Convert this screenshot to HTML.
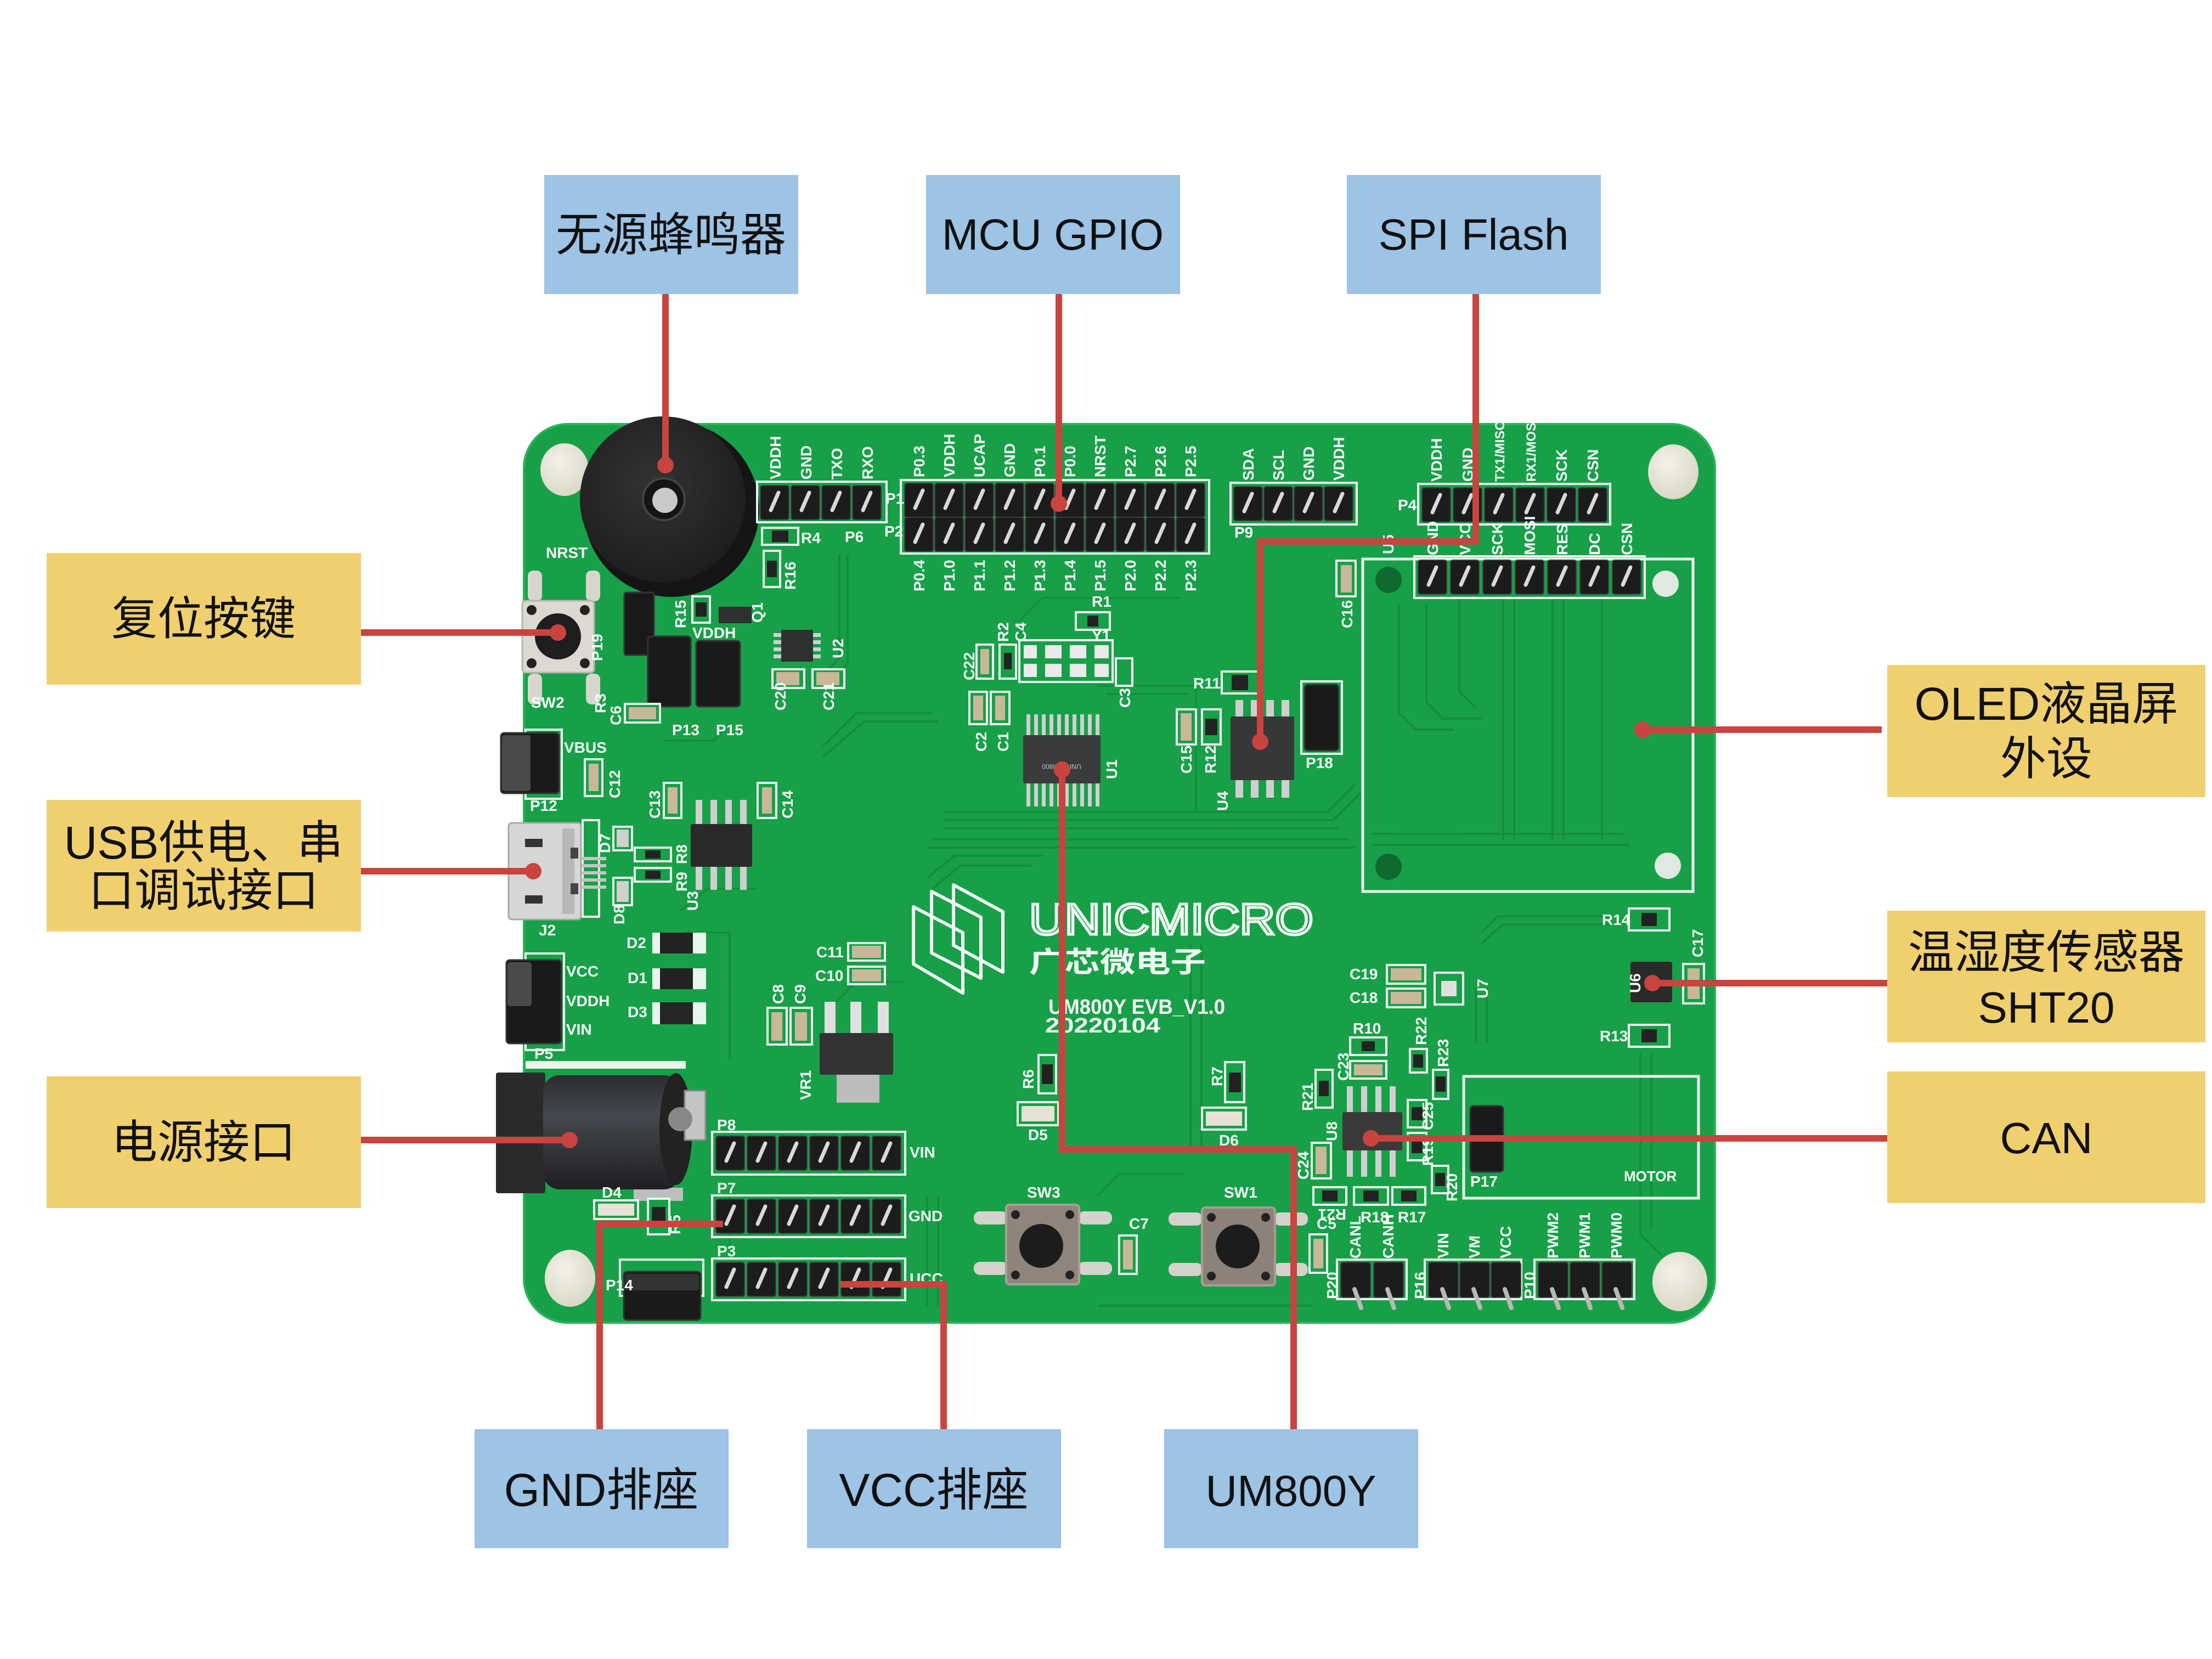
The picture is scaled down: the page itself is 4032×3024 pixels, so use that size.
<!DOCTYPE html>
<html><head><meta charset="utf-8">
<style>
html,body{margin:0;padding:0;background:#fff;}
svg{display:block;}
</style></head>
<body>
<svg width="4032" height="3024" viewBox="0 0 4032 3024" xmlns="http://www.w3.org/2000/svg">
<defs>
  <g id="pin"><rect x="1" y="1" width="52" height="62" rx="4" fill="#1c1c1c" stroke="#3d3d3d" stroke-width="2"/><line x1="20" y1="46" x2="34" y2="14" stroke="#d9d9d9" stroke-width="7" stroke-linecap="round"/></g>
  <g id="rpin"><rect x="1" y="1" width="54" height="64" rx="4" fill="#1c1c1c" stroke="#3d3d3d" stroke-width="2"/><line x1="26" y1="50" x2="38" y2="84" stroke="#b8b8b8" stroke-width="8" stroke-linecap="round"/></g>
  <linearGradient id="jack" x1="0" y1="0" x2="0" y2="1"><stop offset="0" stop-color="#2a2c30"/><stop offset="0.35" stop-color="#45484e"/><stop offset="1" stop-color="#1e1f22"/></linearGradient>
  <radialGradient id="bz" cx="0.45" cy="0.4" r="0.6"><stop offset="0" stop-color="#333"/><stop offset="1" stop-color="#1e1e1e"/></radialGradient>
  <radialGradient id="so" cx="0.4" cy="0.35" r="0.7"><stop offset="0" stop-color="#f4f2e8"/><stop offset="1" stop-color="#d8d6c4"/></radialGradient>
</defs>

<rect width="4032" height="3024" fill="#fff"/>

<!-- ===== BOARD ===== -->
<rect x="955" y="773" width="2171" height="1638" rx="80" fill="#18a048" stroke="#2cb35a" stroke-width="4"/>

<!-- traces texture -->
<g fill="none" stroke="#12893a" stroke-width="4" opacity="0.75">
  <path d="M1530 1010 V1200 L1500 1230"/><path d="M1545 1010 V1210 L1515 1240"/>
  <path d="M1720 1480 H2420 L2470 1430"/><path d="M1720 1495 H2430 L2480 1445"/><path d="M1720 1510 H2440"/>
  <path d="M1700 1530 H2460"/><path d="M1690 1545 H2470"/>
  <path d="M2000 1250 H2180 V1480"/><path d="M2015 1265 H2165"/>
  <path d="M1500 1360 L1560 1300 H1700"/><path d="M1500 1380 L1575 1315 H1710"/>
  <path d="M1520 1900 V1830 L1560 1790 H1650"/>
  <path d="M1690 1600 L1740 1560 H1900"/><path d="M1700 1620 L1750 1578 H1880"/>
  <path d="M2550 1100 V1300 L2580 1330 H2650"/><path d="M2600 1100 V1280 L2630 1310 H2700"/>
  <path d="M2660 1090 V1260 L2690 1290"/><path d="M2740 1090 V1530"/><path d="M2760 1090 V1530"/>
  <path d="M2830 1090 V1530"/><path d="M2850 1090 V1530"/><path d="M2920 1090 V1530"/>
  <path d="M2500 1520 H2960"/><path d="M2500 1540 H2970"/>
  <path d="M2700 1700 L2730 1670 H2940"/><path d="M2700 1720 L2740 1685 H2940"/>
  <path d="M2690 1800 V1900"/><path d="M2710 1800 V1900"/>
  <path d="M2190 1720 V2100"/><path d="M2170 1720 V2100"/>
  <path d="M1240 1660 L1290 1620 H1380"/><path d="M1250 1700 H1330 V1930"/>
  <path d="M1330 2170 V2270"/><path d="M1690 2180 V2380"/><path d="M1710 2180 V2380"/>
  <path d="M2000 2180 L2040 2140 H2160"/><path d="M2000 2380 H2390"/>
  <path d="M2990 1920 V2250 L3030 2290"/><path d="M3010 1920 V2240"/>
  <path d="M1860 1130 L1900 1090 H2150"/><path d="M1210 1350 H1300 L1330 1320"/>
</g>

<!-- standoffs -->
<ellipse cx="1029" cy="856" rx="44" ry="48" fill="url(#so)"/>
<ellipse cx="3050" cy="860" rx="46" ry="50" fill="url(#so)"/>
<ellipse cx="1039" cy="2330" rx="46" ry="52" fill="url(#so)"/>
<ellipse cx="3062" cy="2336" rx="50" ry="54" fill="url(#so)"/>

<!-- OLED outline -->
<rect x="2484" y="1019" width="602" height="606" fill="none" stroke="#e9f5ec" stroke-width="5"/>
<circle cx="2531" cy="1057" r="24" fill="#0f6a30"/><circle cx="3036" cy="1064" r="24" fill="#dfe9e2"/>
<circle cx="2531" cy="1580" r="24" fill="#0f6a30"/><circle cx="3040" cy="1578" r="24" fill="#dfe9e2"/>
<!-- MOTOR outline -->
<rect x="2668" y="1962" width="428" height="222" fill="none" stroke="#e9f5ec" stroke-width="5"/>

<!-- buzzer -->
<circle cx="1224" cy="928" r="160" fill="#151515"/>
<circle cx="1208" cy="910" r="151" fill="url(#bz)"/>
<circle cx="1210" cy="910" r="38" fill="#151515" stroke="#444" stroke-width="4"/>
<circle cx="1212" cy="912" r="23" fill="#c9c9c9"/>

<!-- header outlines -->
<g fill="none" stroke="#e9f5ec" stroke-width="4">
  <rect x="1380" y="878" width="236" height="74"/>
  <rect x="1642" y="875" width="562" height="134"/>
  <rect x="2243" y="880" width="230" height="76"/>
  <rect x="2585" y="882" width="350" height="74"/>
  <rect x="2578" y="1014" width="420" height="76"/>
  <rect x="1298" y="2063" width="352" height="78"/>
  <rect x="1298" y="2179" width="352" height="76"/>
  <rect x="1298" y="2294" width="352" height="76"/>
  <rect x="2437" y="2296" width="127" height="72"/>
  <rect x="2597" y="2296" width="176" height="72"/>
  <rect x="2797" y="2296" width="182" height="72"/>
</g>

<!-- headers -->
<g>
  <use href="#pin" x="1385" y="884"/><use href="#pin" x="1441" y="884"/><use href="#pin" x="1497" y="884"/><use href="#pin" x="1553" y="884"/>
  <use href="#pin" x="1648" y="880"/><use href="#pin" x="1703" y="880"/><use href="#pin" x="1758" y="880"/><use href="#pin" x="1813" y="880"/><use href="#pin" x="1868" y="880"/><use href="#pin" x="1923" y="880"/><use href="#pin" x="1978" y="880"/><use href="#pin" x="2033" y="880"/><use href="#pin" x="2088" y="880"/><use href="#pin" x="2143" y="880"/>
  <use href="#pin" x="1648" y="942"/><use href="#pin" x="1703" y="942"/><use href="#pin" x="1758" y="942"/><use href="#pin" x="1813" y="942"/><use href="#pin" x="1868" y="942"/><use href="#pin" x="1923" y="942"/><use href="#pin" x="1978" y="942"/><use href="#pin" x="2033" y="942"/><use href="#pin" x="2088" y="942"/><use href="#pin" x="2143" y="942"/>
  <use href="#pin" x="2248" y="886"/><use href="#pin" x="2303" y="886"/><use href="#pin" x="2358" y="886"/><use href="#pin" x="2413" y="886"/>
  <use href="#pin" x="2591" y="888"/><use href="#pin" x="2648" y="888"/><use href="#pin" x="2705" y="888"/><use href="#pin" x="2762" y="888"/><use href="#pin" x="2819" y="888"/><use href="#pin" x="2876" y="888"/>
  <use href="#pin" x="2584" y="1020"/><use href="#pin" x="2643" y="1020"/><use href="#pin" x="2702" y="1020"/><use href="#pin" x="2761" y="1020"/><use href="#pin" x="2820" y="1020"/><use href="#pin" x="2879" y="1020"/><use href="#pin" x="2938" y="1020"/>
  <use href="#pin" x="1304" y="2070"/><use href="#pin" x="1361" y="2070"/><use href="#pin" x="1418" y="2070"/><use href="#pin" x="1475" y="2070"/><use href="#pin" x="1532" y="2070"/><use href="#pin" x="1589" y="2070"/>
  <use href="#pin" x="1304" y="2185"/><use href="#pin" x="1361" y="2185"/><use href="#pin" x="1418" y="2185"/><use href="#pin" x="1475" y="2185"/><use href="#pin" x="1532" y="2185"/><use href="#pin" x="1589" y="2185"/>
  <use href="#pin" x="1304" y="2300"/><use href="#pin" x="1361" y="2300"/><use href="#pin" x="1418" y="2300"/><use href="#pin" x="1475" y="2300"/><use href="#pin" x="1532" y="2300"/><use href="#pin" x="1589" y="2300"/>
  <use href="#rpin" x="2443" y="2300"/><use href="#rpin" x="2503" y="2300"/>
  <use href="#rpin" x="2603" y="2300"/><use href="#rpin" x="2660" y="2300"/><use href="#rpin" x="2717" y="2300"/>
  <use href="#rpin" x="2803" y="2300"/><use href="#rpin" x="2861" y="2300"/><use href="#rpin" x="2919" y="2300"/>
</g>

<!-- jumper outlines -->
<g fill="none" stroke="#e9f5ec" stroke-width="4">
  <rect x="1130" y="2296" width="152" height="66"/>
  <rect x="958" y="1330" width="66" height="126"/>
  <rect x="958" y="1738" width="70" height="176"/>
  <rect x="2372" y="1242" width="74" height="132"/>
</g>
<!-- jumpers (black blocks) -->
<g fill="#1a1a1a" stroke="#333" stroke-width="3">
  <rect x="1138" y="1080" width="54" height="114" rx="4"/>
  <rect x="1181" y="1160" width="78" height="128" rx="6"/>
  <rect x="1269" y="1168" width="80" height="120" rx="6"/>
  <rect x="913" y="1336" width="106" height="110" rx="6"/>
  <rect x="923" y="1750" width="100" height="152" rx="6"/>
  <rect x="1137" y="2318" width="140" height="88" rx="6"/>
  <rect x="2378" y="1248" width="62" height="120" rx="6"/>
  <rect x="2680" y="2016" width="60" height="120" rx="6"/>
</g>
<g fill="#4a4a4a">
  <rect x="915" y="1340" width="52" height="102" rx="5"/>
  <rect x="925" y="1754" width="44" height="80" rx="5"/>
  <rect x="1140" y="2322" width="134" height="30" rx="4" fill="#333"/>
</g>

<!-- reset button SW2 -->
<g>
  <rect x="962" y="1040" width="26" height="56" rx="10" fill="#d6d6cf"/><rect x="1068" y="1040" width="26" height="56" rx="10" fill="#d6d6cf"/>
  <rect x="962" y="1228" width="26" height="56" rx="10" fill="#d6d6cf"/><rect x="1068" y="1228" width="26" height="56" rx="10" fill="#d6d6cf"/>
  <rect x="952" y="1095" width="131" height="131" rx="6" fill="#dcd9d2" stroke="#b8b4ac" stroke-width="3"/>
  <circle cx="969" cy="1112" r="9" fill="#222"/><circle cx="1066" cy="1112" r="9" fill="#222"/>
  <circle cx="969" cy="1209" r="9" fill="#222"/><circle cx="1066" cy="1209" r="9" fill="#222"/>
  <circle cx="1017" cy="1160" r="42" fill="#1e1e1e"/>
</g>

<!-- SW3 / SW1 -->
<g>
  <rect x="1775" y="2208" width="62" height="24" rx="11" fill="#d3d3cb"/><rect x="1965" y="2208" width="62" height="24" rx="11" fill="#d3d3cb"/>
  <rect x="1775" y="2300" width="62" height="24" rx="11" fill="#d3d3cb"/><rect x="1965" y="2300" width="62" height="24" rx="11" fill="#d3d3cb"/>
  <rect x="1834" y="2196" width="133" height="145" rx="6" fill="#8f857d" stroke="#a9a097" stroke-width="4"/>
  <circle cx="1851" cy="2214" r="8" fill="#222"/><circle cx="1950" cy="2214" r="8" fill="#222"/><circle cx="1851" cy="2324" r="8" fill="#222"/><circle cx="1950" cy="2324" r="8" fill="#222"/>
  <circle cx="1898" cy="2271" r="40" fill="#1c1c1c"/>
  <rect x="2130" y="2210" width="62" height="24" rx="11" fill="#d3d3cb"/><rect x="2322" y="2210" width="62" height="24" rx="11" fill="#d3d3cb"/>
  <rect x="2130" y="2302" width="62" height="24" rx="11" fill="#d3d3cb"/><rect x="2322" y="2302" width="62" height="24" rx="11" fill="#d3d3cb"/>
  <rect x="2191" y="2201" width="133" height="142" rx="6" fill="#8c827a" stroke="#a79e95" stroke-width="4"/>
  <circle cx="2208" cy="2219" r="8" fill="#222"/><circle cx="2307" cy="2219" r="8" fill="#222"/><circle cx="2208" cy="2326" r="8" fill="#222"/><circle cx="2307" cy="2326" r="8" fill="#222"/>
  <circle cx="2256" cy="2272" r="40" fill="#1c1c1c"/>
</g>

<!-- USB J2 -->
<g>
  <rect x="1062" y="1495" width="30" height="176" fill="none" stroke="#e9f5ec" stroke-width="4"/>
  <line x1="1055" y1="1565" x2="1105" y2="1565" stroke="#c4c4c4" stroke-width="6"/>
  <line x1="1055" y1="1578" x2="1105" y2="1578" stroke="#c4c4c4" stroke-width="6"/>
  <line x1="1055" y1="1591" x2="1105" y2="1591" stroke="#c4c4c4" stroke-width="6"/>
  <line x1="1055" y1="1604" x2="1105" y2="1604" stroke="#c4c4c4" stroke-width="6"/>
  <line x1="1055" y1="1617" x2="1105" y2="1617" stroke="#c4c4c4" stroke-width="6"/>
  <rect x="927" y="1500" width="132" height="176" rx="6" fill="#d6d6d4" stroke="#a8a8a8" stroke-width="3"/>
  <rect x="957" y="1529" width="32" height="15" fill="#333"/>
  <rect x="957" y="1632" width="32" height="15" fill="#333"/>
  <rect x="1025" y="1510" width="22" height="156" fill="#b8b8b6"/>
  <rect x="1040" y="1545" width="14" height="20" fill="#444"/><rect x="1040" y="1610" width="14" height="20" fill="#444"/>
</g>

<!-- DC jack -->
<g>
  <rect x="958" y="1934" width="292" height="14" fill="#e9f5ec"/>
  <rect x="1155" y="2165" width="90" height="24" fill="#bdbdbd"/>
  <rect x="904" y="1955" width="90" height="220" rx="4" fill="#2a2a2a"/>
  <rect x="990" y="1960" width="250" height="208" rx="30" fill="url(#jack)"/>
  <ellipse cx="1232" cy="2058" rx="30" ry="102" fill="#222"/>
  <rect x="1248" y="1988" width="38" height="90" fill="#c4c4c4" stroke="#888" stroke-width="3"/>
  <circle cx="1240" cy="2040" r="22" fill="#888"/>
</g>

<!-- diodes D2 D1 D3 -->
<g>
  <rect x="1189" y="1700" width="98" height="38" fill="#e9f5ec"/><rect x="1203" y="1700" width="60" height="38" fill="#222"/>
  <rect x="1189" y="1765" width="98" height="38" fill="#e9f5ec"/><rect x="1203" y="1765" width="60" height="38" fill="#222"/>
  <rect x="1189" y="1827" width="98" height="40" fill="#e9f5ec"/><rect x="1203" y="1827" width="60" height="40" fill="#262626"/>
</g>

<!-- AMS1117 VR1 -->
<g>
  <rect x="1503" y="1826" width="20" height="60" fill="#e0e0e0"/><rect x="1550" y="1826" width="20" height="60" fill="#e0e0e0"/><rect x="1600" y="1826" width="20" height="60" fill="#e0e0e0"/>
  <rect x="1525" y="1958" width="78" height="52" fill="#bcbcbc"/>
  <rect x="1494" y="1883" width="134" height="76" rx="3" fill="#333"/>
</g>

<!-- chips -->
<g fill="#cfcfcf">
  <rect x="1871" y="1302" width="7" height="40"/><rect x="1885" y="1302" width="7" height="40"/><rect x="1899" y="1302" width="7" height="40"/><rect x="1913" y="1302" width="7" height="40"/><rect x="1927" y="1302" width="7" height="40"/><rect x="1941" y="1302" width="7" height="40"/><rect x="1955" y="1302" width="7" height="40"/><rect x="1969" y="1302" width="7" height="40"/><rect x="1983" y="1302" width="7" height="40"/><rect x="1997" y="1302" width="7" height="40"/>
  <rect x="1871" y="1426" width="7" height="44"/><rect x="1885" y="1426" width="7" height="44"/><rect x="1899" y="1426" width="7" height="44"/><rect x="1913" y="1426" width="7" height="44"/><rect x="1927" y="1426" width="7" height="44"/><rect x="1941" y="1426" width="7" height="44"/><rect x="1955" y="1426" width="7" height="44"/><rect x="1969" y="1426" width="7" height="44"/><rect x="1983" y="1426" width="7" height="44"/><rect x="1997" y="1426" width="7" height="44"/>
  <rect x="2252" y="1276" width="14" height="32"/><rect x="2280" y="1276" width="14" height="32"/><rect x="2308" y="1276" width="14" height="32"/><rect x="2336" y="1276" width="14" height="32"/>
  <rect x="2252" y="1420" width="14" height="34"/><rect x="2280" y="1420" width="14" height="34"/><rect x="2308" y="1420" width="14" height="34"/><rect x="2336" y="1420" width="14" height="34"/>
  <rect x="2455" y="1980" width="11" height="50"/><rect x="2481" y="1980" width="11" height="50"/><rect x="2507" y="1980" width="11" height="50"/><rect x="2533" y="1980" width="11" height="50"/>
  <rect x="2455" y="2095" width="11" height="50"/><rect x="2481" y="2095" width="11" height="50"/><rect x="2507" y="2095" width="11" height="50"/><rect x="2533" y="2095" width="11" height="50"/>
  <rect x="1268" y="1458" width="12" height="46"/><rect x="1295" y="1458" width="12" height="46"/><rect x="1322" y="1458" width="12" height="46"/><rect x="1349" y="1458" width="12" height="46"/>
  <rect x="1268" y="1578" width="12" height="44"/><rect x="1295" y="1578" width="12" height="44"/><rect x="1322" y="1578" width="12" height="44"/><rect x="1349" y="1578" width="12" height="44"/>
  <rect x="1410" y="1154" width="16" height="7"/><rect x="1410" y="1167" width="16" height="7"/><rect x="1410" y="1180" width="16" height="7"/><rect x="1410" y="1193" width="16" height="7"/>
  <rect x="1480" y="1154" width="16" height="7"/><rect x="1480" y="1167" width="16" height="7"/><rect x="1480" y="1180" width="16" height="7"/><rect x="1480" y="1193" width="16" height="7"/>
</g>
<g fill="#2f3030">
  <rect x="1865" y="1340" width="141" height="88" rx="3" fill="#3a3b3b"/>
  <rect x="2243" y="1306" width="116" height="116" rx="3" fill="#363737"/>
  <rect x="2447" y="2027" width="109" height="70" rx="3" fill="#3a3a3a"/>
  <rect x="1259" y="1502" width="112" height="78" rx="3" fill="#2a2a2a"/>
  <rect x="1424" y="1148" width="58" height="58" rx="2"/>
  <rect x="2972" y="1753" width="76" height="74" rx="4" fill="#2a2a2a"/>
  <rect x="1310" y="1106" width="60" height="30"/>
</g>
<g fill="#bfc9c2" font-family="Liberation Sans, sans-serif" font-size="12">
  <text x="1935" y="1375" text-anchor="middle" transform="rotate(180 1935 1384)">UNIC UM800</text>
</g>
<!-- U7 -->
<rect x="2615" y="1773" width="52" height="58" fill="none" stroke="#e9f5ec" stroke-width="4"/>
<rect x="2627" y="1788" width="28" height="28" fill="#e0e0e0"/>

<!-- crystal Y1 pads -->
<g fill="#eaeaea">
  <rect x="1858" y="1167" width="170" height="76" fill="none" stroke="#e9f5ec" stroke-width="4"/>
  <rect x="1866" y="1176" width="24" height="24"/><rect x="1866" y="1210" width="24" height="24"/>
  <rect x="1905" y="1176" width="30" height="24"/><rect x="1950" y="1176" width="30" height="24"/><rect x="1905" y="1210" width="30" height="24"/><rect x="1950" y="1210" width="30" height="24"/>
  <rect x="1995" y="1176" width="26" height="24"/><rect x="1995" y="1210" width="26" height="24"/>
</g>

<!-- small SMD parts -->
<g stroke="#e9f5ec" stroke-width="4" fill="#18a048">
  <rect x="1389" y="962" width="66" height="31"/><rect x="1961" y="1116" width="62" height="32"/>
  <rect x="1139" y="1283" width="64" height="34"/><rect x="1408" y="1220" width="58" height="34"/><rect x="1481" y="1220" width="58" height="34"/>
  <rect x="1157" y="1545" width="66" height="25"/><rect x="1157" y="1582" width="66" height="25"/>
  <rect x="2227" y="1224" width="66" height="40"/><rect x="2969" y="1656" width="74" height="40"/><rect x="2969" y="1868" width="74" height="40"/>
  <rect x="2528" y="1759" width="70" height="34"/><rect x="2528" y="1802" width="70" height="34"/>
  <rect x="2461" y="1891" width="66" height="32"/><rect x="2461" y="1934" width="66" height="32"/>
  <rect x="2394" y="2164" width="60" height="32"/><rect x="2468" y="2164" width="62" height="32"/><rect x="2538" y="2164" width="60" height="32"/>
  <rect x="1546" y="1719" width="67" height="32"/><rect x="1546" y="1762" width="67" height="32"/>
  <rect x="1083" y="2188" width="80" height="34"/><rect x="1855" y="2009" width="74" height="42"/><rect x="2191" y="2019" width="80" height="40"/>
  <rect x="1392" y="1004" width="30" height="66"/><rect x="1262" y="1087" width="32" height="48"/>
  <rect x="1066" y="1384" width="32" height="67"/><rect x="1210" y="1427" width="32" height="64"/><rect x="1381" y="1427" width="34" height="64"/>
  <rect x="1118" y="1507" width="34" height="43"/><rect x="1118" y="1600" width="34" height="50"/>
  <rect x="1780" y="1175" width="30" height="62"/><rect x="1822" y="1175" width="30" height="62"/>
  <rect x="1767" y="1261" width="32" height="59"/><rect x="1806" y="1261" width="34" height="59"/><rect x="2034" y="1200" width="30" height="50"/>
  <rect x="2145" y="1293" width="35" height="64"/><rect x="2191" y="1293" width="34" height="64"/><rect x="2436" y="1022" width="35" height="65"/>
  <rect x="3068" y="1757" width="38" height="72"/>
  <rect x="2570" y="1912" width="31" height="43"/><rect x="2612" y="1950" width="28" height="53"/><rect x="2398" y="1950" width="31" height="69"/>
  <rect x="2566" y="2005" width="34" height="50"/><rect x="2566" y="2065" width="34" height="50"/><rect x="2610" y="2125" width="30" height="50"/>
  <rect x="2391" y="2083" width="35" height="65"/><rect x="2387" y="2250" width="32" height="70"/><rect x="2040" y="2252" width="32" height="70"/>
  <rect x="1399" y="1837" width="35" height="67"/><rect x="1441" y="1837" width="39" height="67"/>
  <rect x="1893" y="1923" width="32" height="70"/><rect x="2233" y="1936" width="35" height="73"/><rect x="1181" y="2185" width="39" height="65"/>
</g>
<g fill="#c9b799">
  <rect x="1415" y="1225" width="42" height="24"/><rect x="1488" y="1225" width="42" height="24"/><rect x="1146" y="1289" width="50" height="22"/>
  <rect x="1073" y="1392" width="18" height="50"/><rect x="1217" y="1435" width="18" height="48"/><rect x="1389" y="1435" width="18" height="48"/>
  <rect x="1787" y="1183" width="16" height="46"/><rect x="1774" y="1268" width="18" height="45"/><rect x="1814" y="1268" width="18" height="45"/>
  <rect x="2152" y="1300" width="20" height="50"/><rect x="2444" y="1030" width="20" height="50"/><rect x="3076" y="1765" width="22" height="56"/>
  <rect x="2535" y="1765" width="56" height="22"/><rect x="2535" y="1808" width="56" height="22"/><rect x="2468" y="1940" width="52" height="20"/>
  <rect x="1553" y="1724" width="53" height="22"/><rect x="1553" y="1767" width="53" height="22"/>
  <rect x="1406" y="1845" width="20" height="52"/><rect x="1449" y="1845" width="22" height="52"/>
  <rect x="2398" y="2090" width="20" height="50"/><rect x="2394" y="2258" width="18" height="54"/><rect x="2047" y="2260" width="18" height="54"/>
  <rect x="1090" y="2194" width="66" height="22" fill="#e6e2d6"/><rect x="1862" y="2016" width="60" height="28" fill="#e6e2d6"/><rect x="2198" y="2026" width="66" height="26" fill="#e6e2d6"/>
  <rect x="1124" y="1512" width="22" height="32" fill="#d0d0cc"/><rect x="1124" y="1606" width="22" height="38" fill="#d0d0cc"/>
</g>
<g fill="#222">
  <rect x="1407" y="967" width="30" height="21"/><rect x="1398" y="1022" width="18" height="30"/><rect x="1268" y="1098" width="20" height="26"/>
  <rect x="1830" y="1190" width="14" height="30"/><rect x="1982" y="1122" width="20" height="20"/>
  <rect x="2245" y="1230" width="30" height="28"/><rect x="2197" y="1310" width="22" height="30"/>
  <rect x="2992" y="1664" width="28" height="24"/><rect x="2992" y="1876" width="28" height="24"/>
  <rect x="2482" y="1898" width="24" height="18"/><rect x="2576" y="1922" width="18" height="24"/><rect x="2617" y="1962" width="18" height="28"/>
  <rect x="2404" y="1970" width="18" height="28"/><rect x="2573" y="2018" width="20" height="24"/><rect x="2573" y="2078" width="20" height="24"/><rect x="2616" y="2138" width="18" height="24"/>
  <rect x="2410" y="2170" width="28" height="20"/><rect x="2485" y="2170" width="28" height="20"/><rect x="2554" y="2170" width="28" height="20"/>
  <rect x="1176" y="1550" width="28" height="15"/><rect x="1176" y="1587" width="28" height="15"/>
  <rect x="1899" y="1940" width="20" height="36"/><rect x="2240" y="1955" width="22" height="36"/><rect x="1188" y="2200" width="25" height="36"/>
</g>

<!-- logo -->
<g fill="none" stroke="#f2faf4" stroke-width="6" stroke-linejoin="round">
  <path d="M1665 1653 L1755 1700 L1755 1810 L1665 1757 Z"/>
  <path d="M1698 1625 L1788 1672 L1788 1783 L1698 1737 Z"/>
  <path d="M1738 1613 L1828 1662 L1828 1772 L1738 1723 Z"/>
</g>
<g font-family="Liberation Sans, sans-serif">
  <text x="1876" y="1703" font-size="80" fill="none" stroke="#f2faf4" stroke-width="5" textLength="518" lengthAdjust="spacingAndGlyphs">UNICMICRO</text>
  <text x="1876" y="1772" font-family="Liberation Sans, Noto Sans CJK SC, sans-serif" font-size="52" font-weight="bold" fill="#f2faf4" textLength="322" lengthAdjust="spacingAndGlyphs">广芯微电子</text>
  <text x="1911" y="1848" font-size="38" font-weight="bold" fill="#f2faf4" textLength="322" lengthAdjust="spacingAndGlyphs">UM800Y EVB_V1.0</text>
  <text x="1905" y="1882" font-size="38" font-weight="bold" fill="#f2faf4" textLength="210" lengthAdjust="spacingAndGlyphs">20220104</text>
</g>

<!-- silkscreen labels -->
<g font-family="Liberation Sans, sans-serif" font-size="28" font-weight="bold" fill="#f2faf4">
  <text transform="translate(1423 874) rotate(-90)">VDDH</text>
  <text transform="translate(1479 874) rotate(-90)">GND</text>
  <text transform="translate(1535 874) rotate(-90)">TXO</text>
  <text transform="translate(1591 874) rotate(-90)">RXO</text>
  <text transform="translate(1685 870) rotate(-90)">P0.3</text>
  <text transform="translate(1740 870) rotate(-90)">VDDH</text>
  <text transform="translate(1795 870) rotate(-90)">UCAP</text>
  <text transform="translate(1850 870) rotate(-90)">GND</text>
  <text transform="translate(1905 870) rotate(-90)">P0.1</text>
  <text transform="translate(1960 870) rotate(-90)">P0.0</text>
  <text transform="translate(2015 870) rotate(-90)">NRST</text>
  <text transform="translate(2070 870) rotate(-90)">P2.7</text>
  <text transform="translate(2125 870) rotate(-90)">P2.6</text>
  <text transform="translate(2180 870) rotate(-90)">P2.5</text>
  <text transform="translate(1685 1078) rotate(-90)">P0.4</text>
  <text transform="translate(1740 1078) rotate(-90)">P1.0</text>
  <text transform="translate(1795 1078) rotate(-90)">P1.1</text>
  <text transform="translate(1850 1078) rotate(-90)">P1.2</text>
  <text transform="translate(1905 1078) rotate(-90)">P1.3</text>
  <text transform="translate(1960 1078) rotate(-90)">P1.4</text>
  <text transform="translate(2015 1078) rotate(-90)">P1.5</text>
  <text transform="translate(2070 1078) rotate(-90)">P2.0</text>
  <text transform="translate(2125 1078) rotate(-90)">P2.2</text>
  <text transform="translate(2180 1078) rotate(-90)">P2.3</text>
  <text transform="translate(2285 876) rotate(-90)">SDA</text>
  <text transform="translate(2340 876) rotate(-90)">SCL</text>
  <text transform="translate(2395 876) rotate(-90)">GND</text>
  <text transform="translate(2450 876) rotate(-90)">VDDH</text>
  <text transform="translate(2628 878) rotate(-90)">VDDH</text>
  <text transform="translate(2685 878) rotate(-90)">GND</text>
  <text transform="translate(2742 878) rotate(-90)" font-size="24">TX1/MISO</text>
  <text transform="translate(2799 878) rotate(-90)" font-size="24">RX1/MOSI</text>
  <text transform="translate(2856 878) rotate(-90)">SCK</text>
  <text transform="translate(2913 878) rotate(-90)">CSN</text>
  <text transform="translate(2621 1012) rotate(-90)">GND</text>
  <text transform="translate(2680 1012) rotate(-90)">VCC</text>
  <text transform="translate(2739 1012) rotate(-90)">SCK</text>
  <text transform="translate(2798 1012) rotate(-90)">MOSI</text>
  <text transform="translate(2857 1012) rotate(-90)">RES</text>
  <text transform="translate(2916 1012) rotate(-90)">DC</text>
  <text transform="translate(2975 1012) rotate(-90)">CSN</text>
  <text transform="translate(2480 2294) rotate(-90)">CANL</text>
  <text transform="translate(2540 2294) rotate(-90)">CANH</text>
  <text transform="translate(2640 2294) rotate(-90)">VIN</text>
  <text transform="translate(2697 2294) rotate(-90)">VM</text>
  <text transform="translate(2754 2294) rotate(-90)">VCC</text>
  <text transform="translate(2840 2294) rotate(-90)">PWM2</text>
  <text transform="translate(2898 2294) rotate(-90)">PWM1</text>
  <text transform="translate(2956 2294) rotate(-90)">PWM0</text>
  <text transform="translate(2438 2368) rotate(-90)">P20</text>
  <text transform="translate(2598 2368) rotate(-90)">P16</text>
  <text transform="translate(2798 2368) rotate(-90)">P10</text>
  <text transform="translate(1450 1075) rotate(-90)">R16</text>
  <text transform="translate(1250 1145) rotate(-90)">R15</text>
  <text transform="translate(1098 1205) rotate(-90)">P19</text>
  <text transform="translate(1104 1300) rotate(-90)">R3</text>
  <text transform="translate(1132 1322) rotate(-90)">C6</text>
  <text transform="translate(1390 1135) rotate(-90)">Q1</text>
  <text transform="translate(1537 1200) rotate(-90)">U2</text>
  <text transform="translate(1432 1295) rotate(-90)">C20</text>
  <text transform="translate(1520 1295) rotate(-90)">C21</text>
  <text transform="translate(1130 1455) rotate(-90)">C12</text>
  <text transform="translate(1203 1492) rotate(-90)">C13</text>
  <text transform="translate(1445 1492) rotate(-90)">C14</text>
  <text transform="translate(1112 1555) rotate(-90)">D7</text>
  <text transform="translate(1252 1575) rotate(-90)">R8</text>
  <text transform="translate(1252 1625) rotate(-90)">R9</text>
  <text transform="translate(1138 1685) rotate(-90)">D8</text>
  <text transform="translate(1272 1660) rotate(-90)">U3</text>
  <text transform="translate(1776 1240) rotate(-90)">C22</text>
  <text transform="translate(1838 1170) rotate(-90)">R2</text>
  <text transform="translate(1870 1170) rotate(-90)">C4</text>
  <text transform="translate(2060 1290) rotate(-90)">C3</text>
  <text transform="translate(1798 1370) rotate(-90)">C2</text>
  <text transform="translate(1838 1370) rotate(-90)">C1</text>
  <text transform="translate(2036 1420) rotate(-90)">U1</text>
  <text transform="translate(2172 1410) rotate(-90)">C15</text>
  <text transform="translate(2216 1410) rotate(-90)">R12</text>
  <text transform="translate(2238 1478) rotate(-90)">U4</text>
  <text transform="translate(2465 1145) rotate(-90)">C16</text>
  <text transform="translate(2540 1010) rotate(-90)">U5</text>
  <text transform="translate(3104 1745) rotate(-90)">C17</text>
  <text transform="translate(2990 1810) rotate(-90)">U6</text>
  <text transform="translate(2712 1820) rotate(-90)">U7</text>
  <text transform="translate(2600 1905) rotate(-90)">R22</text>
  <text transform="translate(2640 1945) rotate(-90)">R23</text>
  <text transform="translate(2458 1970) rotate(-90)">C23</text>
  <text transform="translate(2393 2025) rotate(-90)">R21</text>
  <text transform="translate(2437 2080) rotate(-90)">U8</text>
  <text transform="translate(2612 2060) rotate(-90)">C25</text>
  <text transform="translate(2612 2125) rotate(-90)">R19</text>
  <text transform="translate(2656 2190) rotate(-90)">R20</text>
  <text transform="translate(2385 2150) rotate(-90)">C24</text>
  <text transform="translate(2228 1980) rotate(-90)">R7</text>
  <text transform="translate(1884 1985) rotate(-90)">R6</text>
  <text transform="translate(1478 2005) rotate(-90)">VR1</text>
  <text transform="translate(1428 1830) rotate(-90)">C8</text>
  <text transform="translate(1468 1830) rotate(-90)">C9</text>
  <text transform="translate(1240 2250) rotate(-90)">R5</text>
  <text x="995" y="1017">NRST</text>
  <text x="968" y="1290">SW2</text>
  <text x="1225" y="1340">P13</text>
  <text x="1305" y="1340">P15</text>
  <text x="1262" y="1163">VDDH</text>
  <text x="1460" y="990">R4</text>
  <text x="1540" y="988">P6</text>
  <text x="1614" y="918">P1</text>
  <text x="1612" y="978">P2</text>
  <text x="1028" y="1372">VBUS</text>
  <text x="966" y="1478">P12</text>
  <text x="982" y="1705">J2</text>
  <text x="1142" y="1728">D2</text>
  <text x="1144" y="1792">D1</text>
  <text x="1144" y="1854">D3</text>
  <text x="1032" y="1780">VCC</text>
  <text x="1032" y="1834">VDDH</text>
  <text x="1032" y="1886">VIN</text>
  <text x="974" y="1930">P5</text>
  <text x="1488" y="1745">C11</text>
  <text x="1486" y="1788">C10</text>
  <text x="1307" y="2060">P8</text>
  <text x="1307" y="2175">P7</text>
  <text x="1307" y="2290">P3</text>
  <text x="1658" y="2110">VIN</text>
  <text x="1656" y="2226">GND</text>
  <text x="1658" y="2340">UCC</text>
  <text x="1097" y="2183">D4</text>
  <text x="1104" y="2352">P14</text>
  <text x="1872" y="2183">SW3</text>
  <text x="2231" y="2183">SW1</text>
  <text x="2058" y="2240">C7</text>
  <text x="2400" y="2240">C5</text>
  <text x="1874" y="2078">D5</text>
  <text x="2222" y="2088">D6</text>
  <text x="1990" y="1106">R1</text>
  <text x="1990" y="1168">Y1</text>
  <text x="2175" y="1255">R11</text>
  <text x="2380" y="1400">P18</text>
  <text x="2250" y="980">P9</text>
  <text x="2548" y="930">P4</text>
  <text x="2920" y="1686">R14</text>
  <text x="2916" y="1898">R13</text>
  <text x="2460" y="1785">C19</text>
  <text x="2460" y="1828">C18</text>
  <text x="2466" y="1884">R10</text>
  <text x="2680" y="2163">P17</text>
  <text x="2960" y="2153" font-size="26">MOTOR</text>
  <text x="2396" y="2226" transform="rotate(180 2425 2215)">R21</text>
  <text x="2480" y="2228">R18</text>
  <text x="2548" y="2228">R17</text>
</g>

<!-- ===== CONNECTOR LINES ===== -->
<g stroke="#c9433f" stroke-width="12" fill="none" stroke-linecap="butt">
  <line x1="1213" y1="535" x2="1213" y2="848"/>
  <line x1="1930" y1="535" x2="1930" y2="918"/>
  <polyline points="2690,535 2690,987 2297,987 2297,1352"/>
  <line x1="658" y1="1153" x2="1017" y2="1153"/>
  <line x1="658" y1="1588" x2="972" y2="1588"/>
  <line x1="658" y1="2078" x2="1038" y2="2078"/>
  <line x1="2994" y1="1330" x2="3430" y2="1330"/>
  <line x1="3012" y1="1792" x2="3440" y2="1792"/>
  <line x1="2499" y1="2075" x2="3440" y2="2075"/>
  <polyline points="1318,2231 1093,2231 1093,2605"/>
  <polyline points="1532,2341 1720,2341 1720,2605"/>
  <polyline points="1936,1403 1936,2095 2358,2095 2358,2605"/>
</g>
<g fill="#c9433f">
  <circle cx="1213" cy="848" r="15"/><circle cx="1930" cy="918" r="15"/><circle cx="2297" cy="1352" r="15"/>
  <circle cx="1017" cy="1153" r="15"/><circle cx="972" cy="1588" r="15"/><circle cx="1038" cy="2078" r="15"/>
  <circle cx="2994" cy="1330" r="15"/><circle cx="3012" cy="1792" r="15"/><circle cx="2499" cy="2075" r="15"/>
  <circle cx="1936" cy="1403" r="15"/>
</g>

<!-- ===== LABEL BOXES ===== -->
<g fill="#9dc3e5">
  <rect x="992" y="319" width="463" height="217"/>
  <rect x="1688" y="319" width="463" height="217"/>
  <rect x="2455" y="319" width="463" height="217"/>
  <rect x="865" y="2605" width="463" height="217"/>
  <rect x="1471" y="2605" width="463" height="217"/>
  <rect x="2122" y="2605" width="463" height="217"/>
</g>
<g fill="#f0cf6f">
  <rect x="85" y="1008" width="573" height="240"/>
  <rect x="85" y="1458" width="573" height="240"/>
  <rect x="85" y="1962" width="573" height="240"/>
  <rect x="3440" y="1212" width="580" height="241"/>
  <rect x="3440" y="1660" width="580" height="240"/>
  <rect x="3440" y="1953" width="580" height="240"/>
</g>
<g font-family="Liberation Sans, Noto Sans CJK SC, sans-serif" font-size="84" fill="#111" text-anchor="middle">
  <text x="1223" y="457">无源蜂鸣器</text>
  <text x="1919" y="455" font-size="80">MCU GPIO</text>
  <text x="2686" y="455" font-size="80">SPI Flash</text>
  <text x="371" y="1157">复位按键</text>
  <text x="371" y="1565">USB供电、串</text>
  <text x="371" y="1652">口调试接口</text>
  <text x="371" y="2111">电源接口</text>
  <text x="3730" y="1312">OLED液晶屏</text>
  <text x="3730" y="1412">外设</text>
  <text x="3730" y="1765">温湿度传感器</text>
  <text x="3730" y="1864" font-size="80">SHT20</text>
  <text x="3730" y="2102" font-size="80">CAN</text>
  <text x="1096" y="2745">GND排座</text>
  <text x="1702" y="2745">VCC排座</text>
  <text x="2353" y="2745" font-size="80">UM800Y</text>
</g>
</svg>
</body></html>
